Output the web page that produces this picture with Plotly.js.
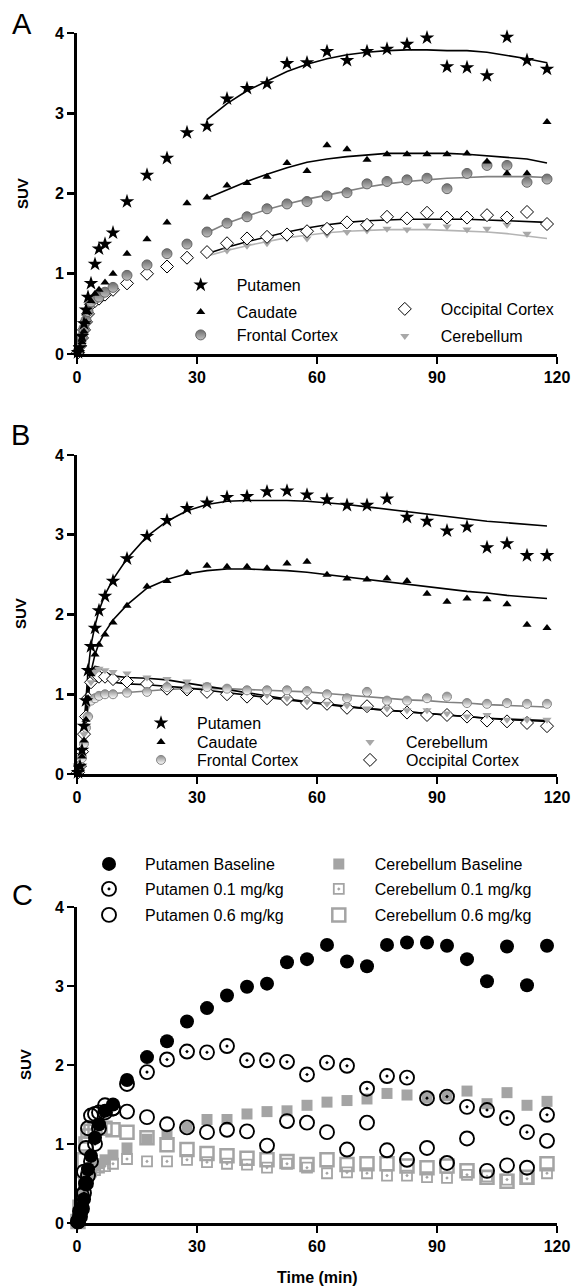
<!DOCTYPE html>
<html><head><meta charset="utf-8">
<script src="https://cdn.plot.ly/plotly-3.0.1.min.js"></script>
<style>html,body{margin:0;padding:0;background:#fff}#chart{width:574px;height:1288px}</style>
</head><body><div id="chart"></div>
<script>
// ---------- data ----------
const frameTimes = [0.25,0.75,1.25,1.75,2.25,2.75,3.5,4.5,5.5,7,9,12.5,17.5,22.5,27.5,32.5,37.5,42.5,47.5,52.5,57.5,62.5,67.5,72.5,77.5,82.5,87.5,92.5,97.5,102.5,107.5,112.5,117.5];
const fitTimesA = [32.5,37.5,42.5,47.5,52.5,57.5,62.5,67.5,72.5,77.5,82.5,87.5,92.5,97.5,102.5,107.5,112.5,117.5];
const fitTimesB = [0,0.25,0.75,1.25,1.75,2.25,2.75,3.5,4.5,5.5,7,9,12.5,17.5,22.5,27.5,32.5,37.5,42.5,47.5,52.5,57.5,62.5,67.5,72.5,77.5,82.5,87.5,92.5,97.5,102.5,107.5,112.5,117.5];
const xTicks = [0,30,60,90,120];
const yTicks = [0,1,2,3,4];

// Panel A
const aPutamen   = [0.02,0.08,0.22,0.38,0.55,0.71,0.88,1.12,1.31,1.37,1.51,1.90,2.23,2.44,2.76,2.84,3.18,3.31,3.37,3.62,3.63,3.77,3.66,3.77,3.80,3.86,3.94,3.58,3.57,3.47,3.95,3.66,3.55];
const aCaudate   = [0.01,0.06,0.15,0.28,0.40,0.52,0.66,0.75,0.80,0.89,1.00,1.25,1.43,1.64,1.88,1.95,2.10,2.13,2.21,2.38,2.28,2.60,2.55,2.42,2.49,2.49,2.49,2.49,2.50,2.40,2.25,2.25,2.89];
const aFrontal   = [0.03,0.12,0.22,0.32,0.42,0.53,0.65,0.69,0.71,0.77,0.83,0.98,1.11,1.25,1.37,1.52,1.63,1.71,1.81,1.87,1.90,1.97,2.01,2.12,2.15,2.17,2.19,2.06,2.25,2.35,2.35,2.14,2.18];
const aOccipital = [0.02,0.10,0.20,0.30,0.40,0.50,0.62,0.66,0.69,0.74,0.80,0.88,1.00,1.09,1.20,1.27,1.38,1.44,1.46,1.49,1.53,1.56,1.64,1.61,1.71,1.69,1.76,1.70,1.70,1.73,1.70,1.77,1.62];
const aCerebellum= [0.02,0.09,0.19,0.29,0.39,0.49,0.60,0.65,0.68,0.73,0.79,0.87,0.98,1.08,1.17,1.25,1.29,1.35,1.38,1.44,1.44,1.49,1.52,1.54,1.56,1.55,1.60,1.59,1.55,1.56,1.61,1.50,1.63];
const aFitPutamen   = [2.92,3.12,3.28,3.40,3.52,3.61,3.68,3.73,3.76,3.78,3.79,3.79,3.78,3.78,3.76,3.72,3.68,3.63];
const aFitCaudate   = [1.94,2.05,2.15,2.24,2.32,2.39,2.43,2.46,2.48,2.50,2.50,2.50,2.50,2.49,2.47,2.45,2.43,2.38];
const aFitFrontal   = [1.51,1.63,1.72,1.80,1.87,1.93,1.98,2.03,2.08,2.12,2.15,2.17,2.19,2.20,2.21,2.21,2.21,2.20];
const aFitOccipital = [1.25,1.33,1.40,1.46,1.52,1.57,1.61,1.64,1.66,1.67,1.68,1.68,1.68,1.68,1.67,1.66,1.65,1.64];
const aFitCerebellum= [1.22,1.29,1.35,1.40,1.45,1.48,1.51,1.53,1.54,1.55,1.55,1.55,1.54,1.53,1.52,1.50,1.47,1.44];

// Panel B
const bPutamen   = [0.02,0.10,0.30,0.60,0.92,1.30,1.60,1.83,2.05,2.23,2.42,2.70,2.98,3.18,3.33,3.40,3.47,3.48,3.54,3.55,3.50,3.44,3.37,3.37,3.45,3.22,3.17,3.05,3.10,2.84,2.89,2.74,2.74];
const bCaudate   = [0.02,0.08,0.22,0.42,0.68,0.95,1.25,1.50,1.62,1.75,1.90,2.11,2.35,2.42,2.52,2.61,2.60,2.60,2.58,2.64,2.66,2.50,2.45,2.44,2.45,2.42,2.26,2.16,2.20,2.19,2.13,1.87,1.83];
const bFrontal   = [0.02,0.08,0.20,0.38,0.58,0.72,0.92,0.95,0.98,1.00,1.00,1.02,1.03,1.09,1.07,1.09,1.07,1.05,1.05,1.05,1.04,1.00,0.95,1.03,0.92,0.92,0.95,0.97,0.89,0.88,0.89,0.88,0.88];
const bCerebellum= [0.02,0.10,0.30,0.50,0.70,0.90,1.15,1.28,1.32,1.30,1.28,1.26,1.21,1.19,1.16,1.12,1.07,1.03,0.99,0.95,0.91,0.88,0.86,0.82,0.82,0.80,0.80,0.76,0.72,0.74,0.68,0.68,0.68];
const bOccipital = [0.02,0.10,0.28,0.50,0.72,0.95,1.15,1.24,1.22,1.22,1.19,1.16,1.13,1.07,1.06,1.03,1.00,0.97,0.95,0.94,0.89,0.88,0.83,0.85,0.80,0.77,0.74,0.74,0.72,0.67,0.66,0.64,0.60];
const bFitPutamen   = [0,0.02,0.10,0.30,0.60,0.95,1.28,1.62,1.86,2.05,2.25,2.44,2.70,2.98,3.17,3.30,3.38,3.42,3.43,3.43,3.43,3.42,3.40,3.38,3.35,3.32,3.29,3.26,3.23,3.20,3.17,3.15,3.13,3.11];
const bFitCaudate   = [0,0.02,0.08,0.22,0.42,0.68,0.95,1.28,1.50,1.64,1.78,1.93,2.12,2.33,2.44,2.51,2.55,2.57,2.57,2.56,2.55,2.53,2.50,2.47,2.44,2.41,2.38,2.35,2.32,2.29,2.27,2.24,2.22,2.20];
const bFitFrontal   = [0,0.02,0.10,0.25,0.45,0.65,0.80,0.93,0.97,0.98,1.00,1.01,1.02,1.04,1.06,1.07,1.07,1.07,1.06,1.05,1.04,1.03,1.01,0.99,0.97,0.95,0.93,0.92,0.90,0.89,0.87,0.86,0.85,0.84];
const bFitCerebellum= [0,0.02,0.10,0.30,0.55,0.85,1.10,1.30,1.35,1.34,1.28,1.23,1.21,1.20,1.18,1.14,1.10,1.06,1.02,0.98,0.94,0.91,0.88,0.85,0.82,0.80,0.78,0.76,0.74,0.72,0.70,0.69,0.68,0.67];
const bFitOccipital = [0,0.02,0.10,0.30,0.55,0.82,1.05,1.20,1.27,1.27,1.21,1.15,1.13,1.12,1.10,1.08,1.05,1.02,0.99,0.96,0.93,0.90,0.87,0.84,0.82,0.80,0.78,0.76,0.74,0.72,0.70,0.68,0.67,0.66];

// Panel C
const cPutBase  = [0.02,0.10,0.20,0.30,0.50,0.68,0.85,1.08,1.25,1.42,1.50,1.81,2.10,2.30,2.55,2.72,2.88,2.99,3.03,3.30,3.34,3.52,3.31,3.25,3.52,3.55,3.55,3.51,3.34,3.06,3.50,3.01,3.51];
const cPut01    = [0.02,0.08,0.18,0.38,0.50,0.60,0.78,1.00,1.20,1.40,1.45,1.76,1.91,2.07,2.17,2.16,2.24,2.06,2.06,2.04,1.88,2.03,1.99,1.70,1.86,1.84,1.58,1.60,1.47,1.43,1.33,1.15,1.37];
const cPut06    = [0.02,0.15,0.35,0.65,0.95,1.20,1.36,1.38,1.40,1.49,1.45,1.41,1.34,1.25,1.21,1.15,1.18,1.16,0.98,1.29,1.27,1.15,0.93,1.27,0.92,0.80,0.95,0.76,1.07,0.66,0.73,0.70,1.04];
const cCerBase  = [0.02,0.15,0.35,0.50,0.60,0.65,0.70,0.72,0.75,0.80,0.86,0.95,1.06,1.12,1.21,1.31,1.31,1.38,1.41,1.42,1.49,1.53,1.55,1.57,1.64,1.62,1.58,1.61,1.67,1.51,1.65,1.49,1.54];
const cCer01    = [0.02,0.15,0.35,0.50,0.58,0.62,0.65,0.67,0.70,0.72,0.75,0.81,0.78,0.78,0.80,0.77,0.75,0.74,0.70,0.75,0.70,0.63,0.64,0.63,0.60,0.60,0.58,0.57,0.61,0.59,0.55,0.56,0.63];
const cCer06    = [0.02,0.20,0.50,0.80,1.00,1.10,1.16,1.20,1.20,1.20,1.18,1.15,1.08,0.99,0.93,0.88,0.85,0.82,0.80,0.78,0.74,0.80,0.74,0.75,0.75,0.72,0.70,0.72,0.66,0.58,0.53,0.58,0.75];

// ---------- layout helpers ----------
const W = 574, H = 1288;
const FONT = 'Liberation Sans, Arial, sans-serif';
const px = v => v / W;
const py = v => 1 - v / H;

const BLACK = '#000000', GRAY = '#808080', LGRAY = '#a8a8a8', SQGRAY = '#a4a4a4';

function legendAt(cx, cy) {
  return {x: px(cx - 36), y: py(cy), xanchor: 'left', yanchor: 'middle',
    bgcolor: 'rgba(0,0,0,0)', borderwidth: 0, itemwidth: 62,
    font: {family: FONT, size: 16, color: '#000'}};
}

function pts(name, xs, ys, ax, marker, legend) {
  return {type: 'scatter', mode: 'markers', name: name, x: xs, y: ys,
    xaxis: ax[0], yaxis: ax[1], marker: marker, legend: legend,
    cliponaxis: false, showlegend: true, hoverinfo: 'skip'};
}
function fit(xs, ys, ax, color) {
  return {type: 'scatter', mode: 'lines', x: xs, y: ys, xaxis: ax[0], yaxis: ax[1],
    line: {color: color, width: 1.6}, showlegend: false, hoverinfo: 'skip', cliponaxis: false};
}

const A = ['x', 'y'], B = ['x2', 'y2'], C = ['x3', 'y3'];

const mStar = {symbol: 'star', size: 11, color: BLACK, line: {width: 0}};
const mTri = {symbol: 'triangle-up', size: 8, color: BLACK, line: {width: 0}};
const mFrontA = {symbol: 'circle', size: 10, color: '#6c6c6c', gradient: {type: 'vertical', color: '#c0c0c0'}, line: {color: '#666666', width: 1}};
const mFrontB = {symbol: 'circle', size: 9, color: '#888888', gradient: {type: 'vertical', color: '#ffffff'}, line: {color: '#888888', width: 1}};
const mDiam = {symbol: 'diamond', size: 10, color: '#ffffff', line: {color: BLACK, width: 1}};
const mCer = {symbol: 'triangle-down', size: 8, color: LGRAY, line: {width: 0}};

const traces = [
  // A
  fit(fitTimesA, aFitCerebellum, A, '#b4b4b4'),
  fit(fitTimesA, aFitOccipital, A, BLACK),
  fit(fitTimesA, aFitFrontal, A, GRAY),
  fit(fitTimesA, aFitCaudate, A, BLACK),
  fit(fitTimesA, aFitPutamen, A, BLACK),
  pts('Cerebellum', frameTimes, aCerebellum, A, mCer, 'legend5'),
  pts('Occipital Cortex', frameTimes, aOccipital, A, mDiam, 'legend4'),
  pts('Frontal Cortex', frameTimes, aFrontal, A, mFrontA, 'legend3'),
  pts('Caudate', frameTimes, aCaudate, A, mTri, 'legend2'),
  pts('Putamen', frameTimes, aPutamen, A, mStar, 'legend'),
  // B
  fit(fitTimesB, bFitFrontal, B, GRAY),
  fit(fitTimesB, bFitOccipital, B, BLACK),
  fit(fitTimesB, bFitCerebellum, B, BLACK),
  fit(fitTimesB, bFitCaudate, B, BLACK),
  fit(fitTimesB, bFitPutamen, B, BLACK),
  pts('Occipital Cortex', frameTimes, bOccipital, B, mDiam, 'legend10'),
  pts('Cerebellum', frameTimes, bCerebellum, B, mCer, 'legend9'),
  pts('Frontal Cortex', frameTimes, bFrontal, B, mFrontB, 'legend8'),
  pts('Caudate', frameTimes, bCaudate, B, mTri, 'legend7'),
  pts('Putamen', frameTimes, bPutamen, B, mStar, 'legend6'),
  // C
  pts('Cerebellum 0.6 mg/kg', frameTimes, cCer06, C, {symbol: 'square-open', size: 13, color: SQGRAY, line: {width: 2.5}}, 'legend16'),
  pts('Cerebellum 0.1 mg/kg', frameTimes, cCer01, C, {symbol: 'square-open-dot', size: 10, color: SQGRAY, line: {width: 1.8}}, 'legend15'),
  pts('Cerebellum Baseline', frameTimes, cCerBase, C, {symbol: 'square', size: 11, color: SQGRAY, line: {width: 0}}, 'legend14'),
  pts('Putamen 0.6 mg/kg', frameTimes, cPut06, C, {symbol: 'circle-open', size: 14, color: BLACK, line: {width: 1.9}}, 'legend13'),
  pts('Putamen 0.1 mg/kg', frameTimes, cPut01, C, {symbol: 'circle-open-dot', size: 14, color: BLACK, line: {width: 1.9}}, 'legend12'),
  pts('Putamen Baseline', frameTimes, cPutBase, C, {symbol: 'circle', size: 14, color: BLACK, line: {width: 0}}, 'legend11')
];

function xAxis(anchor) {
  return {domain: [px(77), px(557)], range: [0, 120], anchor: anchor,
    tickvals: xTicks, ticktext: xTicks.map(String), showline: true, linecolor: '#000', linewidth: 2.8,
    ticks: 'outside', ticklen: 7, tickwidth: 2.8, tickcolor: '#000', showgrid: false, zeroline: false,
    tickfont: {family: FONT, size: 16, color: '#000', weight: 'bold'}, fixedrange: true};
}
function yAxis(anchor, top, bottom) {
  return {domain: [py(bottom), py(top)], range: [0, 4], anchor: anchor,
    tickvals: yTicks, ticktext: yTicks.map(String), showline: true, linecolor: '#000', linewidth: 2.8,
    ticks: 'outside', ticklen: 7, tickwidth: 2.8, tickcolor: '#000', showgrid: false, zeroline: false,
    tickfont: {family: FONT, size: 16, color: '#000', weight: 'bold'}, fixedrange: true};
}

function label(text, x, y, size, bold, angle) {
  return {text: text, x: px(x), y: py(y), xref: 'paper', yref: 'paper', showarrow: false,
    xanchor: 'center', yanchor: 'middle', textangle: angle || 0,
    font: {family: FONT, size: size, color: '#000', weight: bold ? 'bold' : 'normal'}};
}

const layout = {
  width: W, height: H, margin: {l: 0, r: 0, t: 0, b: 0, autoexpand: false},
  paper_bgcolor: '#fff', plot_bgcolor: 'rgba(0,0,0,0)',
  xaxis: xAxis('y'), yaxis: yAxis('x', 33, 354),
  xaxis2: xAxis('y2'), yaxis2: yAxis('x2', 455, 774),
  xaxis3: xAxis('y3'), yaxis3: yAxis('x3', 907, 1223),
  legend: legendAt(200.7, 285), legend2: legendAt(200.7, 312), legend3: legendAt(200.7, 335),
  legend4: legendAt(404.8, 309), legend5: legendAt(404.8, 336),
  legend6: legendAt(161, 723), legend7: legendAt(161, 742), legend8: legendAt(161, 760),
  legend9: legendAt(370, 742), legend10: legendAt(370, 760),
  legend11: legendAt(109, 864), legend12: legendAt(109, 889), legend13: legendAt(109, 915),
  legend14: legendAt(338.8, 864), legend15: legendAt(338.8, 889), legend16: legendAt(338.8, 915),
  annotations: [
    label('A', 22, 24, 29, false), label('B', 20, 435, 29, false), label('C', 22, 895, 29, false),
    label('SUV', 22, 194, 15, true, -90), label('SUV', 21, 614, 15, true, -90), label('SUV', 25, 1065, 15, true, -90),
    label('Time (min)', 317, 1277, 16, true)
  ],
  showlegend: true
};

Plotly.newPlot('chart', traces, layout, {staticPlot: true, displayModeBar: false});
</script>
</body></html>
